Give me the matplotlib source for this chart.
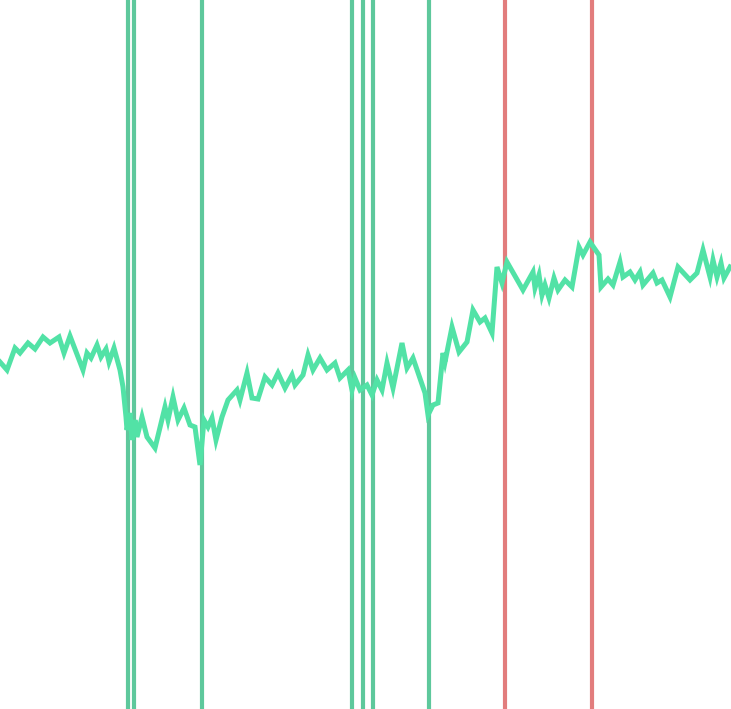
import numpy as np
import matplotlib.pyplot as plt

# price series (time step, value)
steps = [0, 7, 15, 20, 28, 35, 43, 50, 59, 64, 70, 83, 87, 91, 97, 101, 106, 109, 114,
         120, 123, 126, 127, 130, 132, 135, 137, 142, 147, 155, 165, 168, 173, 178, 184,
         190, 195, 200, 204, 208, 212, 216, 222, 228, 237, 240, 247, 252, 258, 265, 272,
         278, 285, 292, 295, 303, 308, 313, 320, 327, 335, 340, 348, 352, 355, 360, 367,
         372, 377, 382, 387, 393, 402, 407, 413, 425, 428, 433, 438, 443, 445, 452, 459,
         467, 473, 480, 485, 492, 497, 502, 507, 523, 533, 535, 539, 542, 545, 549, 554,
         558, 565, 572, 579, 583, 590, 599, 601, 608, 613, 620, 623, 630, 635, 640, 643,
         653, 657, 662, 670, 678, 690, 697, 703, 710, 713, 717, 721, 724, 730]
price = [362, 370, 348, 353, 343, 349, 337, 343, 337, 353, 336, 370, 353, 358, 345, 357,
         349, 362, 348, 370, 387, 417, 430, 413, 440, 420, 437, 417, 437, 448, 407, 420,
         397, 420, 408, 425, 427, 465, 420, 427, 418, 440, 417, 400, 390, 400, 373, 398,
         399, 377, 385, 373, 388, 375, 385, 375, 355, 370, 358, 370, 363, 378, 370, 390,
         378, 390, 385, 395, 380, 390, 363, 388, 343, 368, 358, 393, 415, 405, 403, 353,
         362, 327, 352, 342, 310, 322, 318, 333, 267, 283, 262, 290, 272, 288, 275, 295,
         285, 298, 278, 290, 280, 287, 247, 255, 242, 255, 287, 279, 285, 262, 277, 272,
         280, 272, 285, 273, 283, 280, 297, 267, 280, 273, 250, 277, 260, 277, 263, 278,
         267]
price = [(709 - p) / 10 for p in price]

# trade signals
buys = [128, 134, 202, 352, 363, 373, 429]
sells = [505, 592]

fig = plt.figure(figsize=(7.31, 7.09), dpi=100)
ax = fig.add_axes([0, 0, 1, 1])

for x in buys:
    ax.axvline(x, color='#5ec89c', lw=3, zorder=1)
for x in sells:
    ax.axvline(x, color='#e27d7d', lw=3, zorder=1)

ax.plot(steps, price, color='#52e2a6', lw=3.6, zorder=2, solid_joinstyle='miter')

ax.set_xlim(0, 731)
ax.set_ylim(0, 70.9)
ax.axis('off')

fig.savefig('out.png', dpi=100)
